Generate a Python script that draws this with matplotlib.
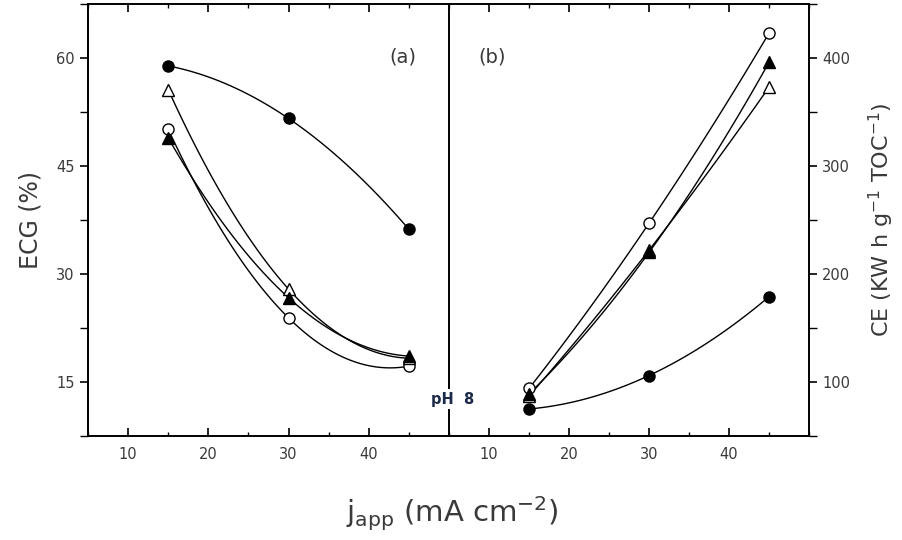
import numpy as np
import matplotlib.pyplot as plt
from matplotlib.ticker import MultipleLocator

plt.rcParams['font.family'] = ['DejaVu Sans']

# applied current density (mA cm-2)
j_app = [15, 30, 45]

# (a) ECG (%)
ecg_filled_circle = [58.9, 51.6, 36.2]
ecg_open_triangle = [55.6, 27.9, 18.3]
ecg_open_circle = [50.1, 23.9, 17.2]
ecg_filled_triangle = [48.9, 26.7, 18.6]

# (b) CE (KW h g-1 TOC-1)
ce_filled_circle = [75, 106, 179]
ce_open_triangle = [87, 222, 373]
ce_open_circle = [94, 247, 423]
ce_filled_triangle = [89, 220, 396]

label_col = '#3a3a3a'


def smooth(x, y):
    # smooth connecting curve through the three measured points
    c = np.polyfit(x, y, 2)
    xs = np.linspace(x[0], x[-1], 100)
    return xs, np.polyval(c, xs)


def draw_series(ax, y, marker, filled):
    xs, ys = smooth(j_app, y)
    ax.plot(xs, ys, color='black', lw=1.0, zorder=2)
    ax.plot(j_app, y, linestyle='none', marker=marker, ms=8,
            mfc='black' if filled else 'white', mec='black', mew=1.0, zorder=3)


fig = plt.figure(figsize=(9.02, 5.40), dpi=100)
ax1 = fig.add_axes([0.0976, 0.1926, 0.4002, 0.80])
ax2 = fig.add_axes([0.4978, 0.1926, 0.3991, 0.80])

draw_series(ax1, ecg_open_circle, 'o', False)
draw_series(ax1, ecg_open_triangle, '^', False)
draw_series(ax1, ecg_filled_triangle, '^', True)
draw_series(ax1, ecg_filled_circle, 'o', True)

draw_series(ax2, ce_open_circle, 'o', False)
draw_series(ax2, ce_open_triangle, '^', False)
draw_series(ax2, ce_filled_triangle, '^', True)
draw_series(ax2, ce_filled_circle, 'o', True)

for ax in (ax1, ax2):
    ax.set_xlim(5, 50)
    ax.xaxis.set_minor_locator(MultipleLocator(5))
    ax.set_xticks([10, 20, 30, 40])
    ax.tick_params(axis='x', which='both', direction='in', top=True,
                   labelsize=10.5, labelcolor=label_col, pad=8)
    ax.tick_params(axis='x', which='major', length=6, width=1.2)
    ax.tick_params(axis='x', which='minor', length=3, width=1.0)
    for s in ax.spines.values():
        s.set_linewidth(1.4)

ax1.set_ylim(7.5, 67.5)
ax1.yaxis.set_minor_locator(MultipleLocator(7.5))
ax1.set_yticks([15, 30, 45, 60])
ax1.tick_params(axis='y', which='both', direction='out', labelsize=10.5,
                labelcolor=label_col)
ax1.tick_params(axis='y', which='major', length=6, width=1.2)
ax1.tick_params(axis='y', which='minor', length=6, width=1.0)
ax1.spines['right'].set_visible(False)
ax1.set_ylabel('ECG (%)', fontsize=17, color=label_col, labelpad=10)

ax2.set_ylim(50, 450)
ax2.yaxis.set_minor_locator(MultipleLocator(50))
ax2.set_yticks([100, 200, 300, 400])
ax2.yaxis.tick_right()
ax2.yaxis.set_label_position('right')
ax2.tick_params(axis='y', which='both', direction='out', left=False, right=True,
                labelsize=10.5, labelcolor=label_col)
ax2.tick_params(axis='y', which='major', length=6, width=1.2)
ax2.tick_params(axis='y', which='minor', length=6, width=1.0)
ax2.set_ylabel('CE (KW h g$^{-1}$ TOC$^{-1}$)', fontsize=16, color=label_col,
               labelpad=12)

ax1.text(0.873, 0.877, '(a)', transform=ax1.transAxes, fontsize=14,
         color=label_col, ha='center', va='center')
ax2.text(0.12, 0.877, '(b)', transform=ax2.transAxes, fontsize=14,
         color=label_col, ha='center', va='center')

fig.text(0.502, 0.261, 'pH  8', fontsize=10.5, fontweight='bold', color='#1c2a4a',
         ha='center', va='center',
         bbox=dict(facecolor='white', edgecolor='none', pad=2), zorder=5)

fig.text(0.502, 0.048, 'j$_{\\mathregular{app}}$ (mA cm$^{\\mathregular{-2}}$)',
         fontsize=21, color=label_col, ha='center', va='center')

fig.savefig('out.png', dpi=100)
